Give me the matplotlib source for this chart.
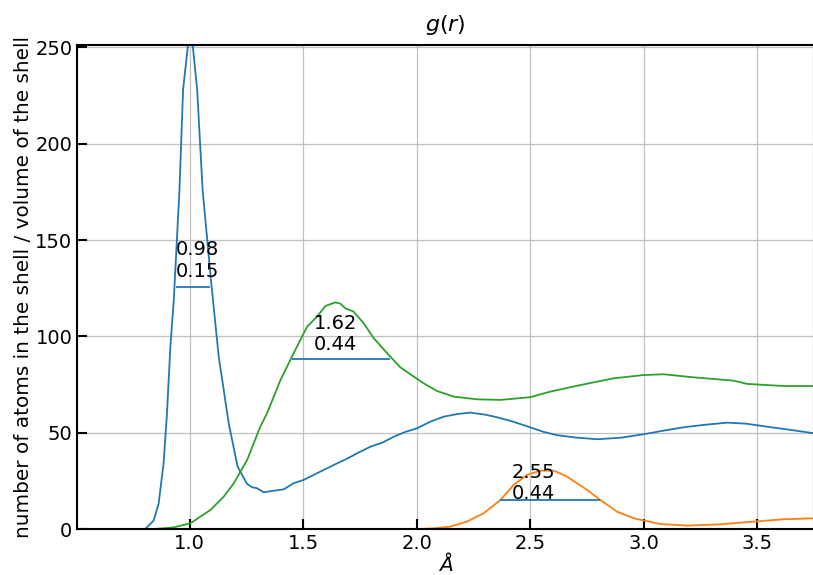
import numpy as np
import matplotlib
matplotlib.use("Agg")
import matplotlib.pyplot as plt

# blue curve (C0)
r_blue = [0.505, 0.70, 0.78, 0.805, 0.841, 0.863, 0.885, 0.90, 0.915, 0.93, 0.955, 0.971, 0.993,
          1.013, 1.033, 1.057, 1.094, 1.128, 1.172, 1.211, 1.253, 1.275, 1.297, 1.326, 1.37, 1.414,
          1.458, 1.502, 1.56, 1.634, 1.70, 1.737, 1.796, 1.85, 1.899, 1.95, 2.002, 2.06,
          2.119, 2.18, 2.237, 2.30, 2.354, 2.42, 2.50, 2.56, 2.618, 2.70, 2.795, 2.90,
          3.0, 3.09, 3.176, 3.27, 3.367, 3.45, 3.544, 3.65, 3.75]
g_blue = [0.0, 0.0, 0.0, 0.3, 4.5, 13.1, 34.2, 60.0, 94.7, 119.0, 176.0, 228.0, 251.5,
          251.5, 228.0, 176.0, 129.0, 89.5, 55.0, 32.5, 23.5, 21.8, 21.3, 19.2, 20.0, 20.7,
          23.9, 25.6, 29.0, 33.3, 37.0, 39.4, 42.8, 45.0, 48.0, 50.5, 52.4, 55.8,
          58.4, 59.8, 60.5, 59.5, 58.1, 56.0, 52.9, 50.5, 48.8, 47.6, 46.7, 47.5,
          49.3, 51.2, 52.9, 54.2, 55.3, 54.8, 53.2, 51.5, 49.8]

# orange curve (C1)
r_orange = [0.505, 1.9, 2.0, 2.075, 2.149, 2.222, 2.295, 2.369, 2.427, 2.486, 2.545, 2.604,
            2.663, 2.751, 2.809, 2.883, 2.956, 3.074, 3.191, 3.338, 3.485, 3.617, 3.75]
g_orange = [0.0, 0.0, 0.1, 0.5, 1.4, 4.0, 8.3, 15.2, 23.0, 28.2, 30.4, 30.4,
            27.3, 20.4, 15.2, 9.1, 5.7, 2.7, 1.9, 2.6, 4.0, 5.2, 5.7]

# green curve (C2)
r_green = [0.505, 0.75, 0.85, 0.93, 1.003, 1.091, 1.15, 1.194, 1.253, 1.311, 1.341, 1.40,
           1.458, 1.517, 1.561, 1.598, 1.642, 1.664, 1.686, 1.722, 1.767, 1.811, 1.87,
           1.928, 1.987, 2.031, 2.09, 2.163, 2.266, 2.369, 2.50, 2.589, 2.721, 2.868,
           3.0, 3.088, 3.22, 3.396, 3.456, 3.617, 3.75]
g_green = [0.0, 0.0, 0.2, 1.0, 3.1, 10.0, 16.9, 23.8, 35.9, 53.2, 60.2, 77.4,
           91.3, 105.0, 110.3, 115.8, 117.7, 117.0, 114.6, 112.9, 106.8, 99.1, 91.3,
           84.0, 79.2, 75.7, 71.7, 68.8, 67.4, 67.1, 68.5, 71.4, 74.8, 78.3,
           80.0, 80.4, 78.8, 77.1, 75.4, 74.3, 74.3]

# peak position, width and the width bar (start, end, height)
peaks = ["0.98", "1.62", "2.55"]
widths = ["0.15", "0.44", "0.44"]
bar_start = [0.940, 1.449, 2.369]
bar_end = [1.091, 1.884, 2.806]
bar_height = [125.5, 88.5, 15.4]
text_x = [0.937, 1.545, 2.42]
text_y = [129.0, 91.0, 13.5]

fig = plt.figure(figsize=(8.13, 5.75), dpi=100)
ax = fig.add_axes([0.0951, 0.0795, 0.906, 0.8417])

ax.plot(r_blue, g_blue, color="C0", lw=1.3)
ax.plot(r_orange, g_orange, color="C1", lw=1.3)
ax.plot(r_green, g_green, color="C2", lw=1.3)

for i in range(len(peaks)):
    ax.hlines(bar_height[i], bar_start[i], bar_end[i], color="C0", lw=1.3)
    ax.text(text_x[i], text_y[i], peaks[i] + "\n" + widths[i], fontsize=14,
            va="bottom", linespacing=1.15)

ax.set_xlim(0.505, 3.75)
ax.set_ylim(0, 251)
ax.set_title("$g(r)$", fontsize=16, pad=10)
ax.set_xlabel(r"$\AA$", fontsize=14.5, labelpad=-1)
ax.set_ylabel("number of atoms in the shell / volume of the shell", fontsize=14.4, labelpad=2)
ax.grid(True, color="#c0c0c0", lw=0.9)
ax.tick_params(direction="in", length=7, width=1.5, labelsize=14)
for s in ax.spines.values():
    s.set_linewidth(1.5)

fig.savefig("out.png", dpi=100)
